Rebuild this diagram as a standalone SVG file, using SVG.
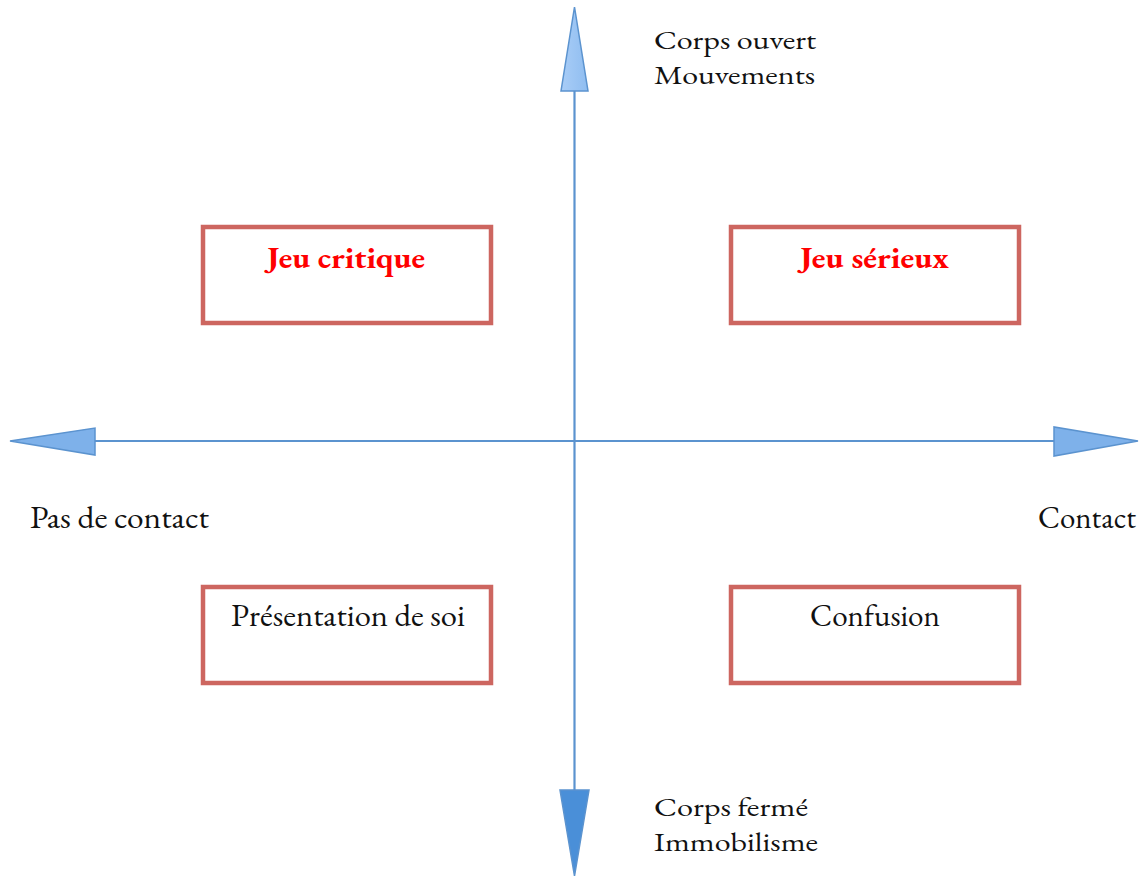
<svg xmlns="http://www.w3.org/2000/svg" width="1143" height="876" viewBox="0 0 1143 876">
<defs>
<linearGradient id="gUp" x1="0" y1="0" x2="1" y2="0">
<stop offset="0" stop-color="#a9cdf7"/><stop offset="1" stop-color="#8fbdf0"/>
</linearGradient>
<style>
.axis{stroke:#5b93cf;stroke-width:2.2;fill:none}
.head{stroke:#5b93cf;stroke-width:1.5;stroke-linejoin:miter}
.box{fill:#fff;stroke:#cd6660;stroke-width:4.5}
.lbl,.txt{font-family:"EB Garamond","Liberation Serif","DejaVu Serif",serif;font-size:30px;fill:#111}
.lbl2{font-family:"EB Garamond","Liberation Serif","DejaVu Serif",serif;font-size:27px;fill:#111}
.title{font-family:"EB Garamond","Liberation Serif","DejaVu Serif",serif;font-size:30px;font-weight:bold;fill:#f00}
</style>
</defs>
<rect width="1143" height="876" fill="#fff"/>
<g id="connectors">
<line class="axis" x1="574.5" y1="90" x2="574.5" y2="792"/>
<line class="axis" x1="95" y1="441" x2="1055" y2="441"/>
<polygon class="head" fill="url(#gUp)" points="574.5,7 588,91 561,91"/>
<polygon class="head" fill="#4a8fd8" points="574.5,876 589,790 560,790"/>
<polygon class="head" fill="#7eb1ea" points="10,441 95,428 95,455"/>
<polygon class="head" fill="#7eb1ea" points="1138,441 1054,427 1054,456"/>
</g>
<g id="n-critique">
<rect class="box" x="203" y="227" width="288" height="96"/>
<text class="title" x="267" y="268" textLength="158" lengthAdjust="spacingAndGlyphs">Jeu critique</text>
</g>
<g id="n-serieux">
<rect class="box" x="731" y="227" width="288" height="96"/>
<text class="title" x="800" y="268" textLength="149" lengthAdjust="spacingAndGlyphs">Jeu sérieux</text>
</g>
<g id="n-presentation">
<rect class="box" x="203" y="587" width="288" height="96"/>
<text class="txt" x="231" y="626" textLength="234" lengthAdjust="spacingAndGlyphs">Présentation de soi</text>
</g>
<g id="n-confusion">
<rect class="box" x="731" y="587" width="288" height="96"/>
<text class="txt" x="810" y="626" textLength="130" lengthAdjust="spacingAndGlyphs">Confusion</text>
</g>
<g id="labels">
<text class="lbl2" x="654" y="49" textLength="162" lengthAdjust="spacingAndGlyphs">Corps ouvert</text>
<text class="lbl2" x="654" y="84" textLength="161" lengthAdjust="spacingAndGlyphs">Mouvements</text>
<text class="lbl2" x="654" y="816" textLength="154" lengthAdjust="spacingAndGlyphs">Corps fermé</text>
<text class="lbl2" x="654" y="851" textLength="164" lengthAdjust="spacingAndGlyphs">Immobilisme</text>
<text class="lbl" x="30" y="528" textLength="179" lengthAdjust="spacingAndGlyphs">Pas de contact</text>
<text class="lbl" x="1038" y="528" textLength="98" lengthAdjust="spacingAndGlyphs">Contact</text>
</g>
</svg>
